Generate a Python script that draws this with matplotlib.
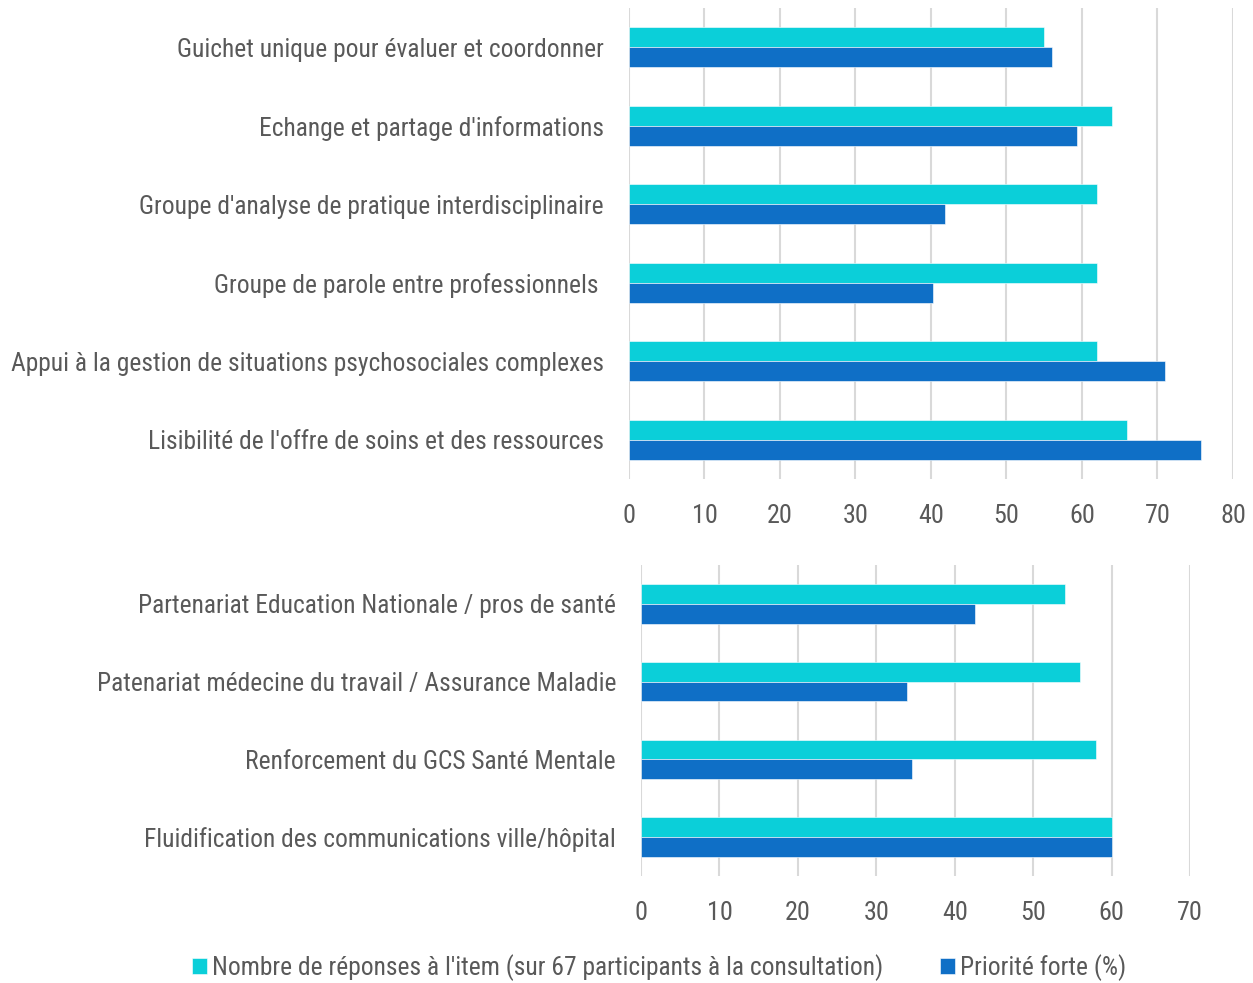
import matplotlib.pyplot as plt
import numpy as np

# data
top_labels = ["Guichet unique pour évaluer et coordonner",
              "Echange et partage d'informations",
              "Groupe d'analyse de pratique interdisciplinaire",
              "Groupe de parole entre professionnels ",
              "Appui à la gestion de situations psychosociales complexes",
              "Lisibilité de l'offre de soins et des ressources"]
top_nombre = [55, 64, 62, 62, 62, 66]
top_priorite = [56, 59.4, 41.9, 40.3, 71, 75.8]

bot_labels = ["Partenariat Education Nationale / pros de santé",
              "Patenariat médecine du travail / Assurance Maladie",
              "Renforcement du GCS Santé Mentale",
              "Fluidification des communications ville/hôpital"]
bot_nombre = [54, 56, 58, 60]
bot_priorite = [42.6, 33.9, 34.5, 60]

series_names = ["Nombre de réponses à l'item (sur 67 participants à la consultation)",
                "Priorité forte (%)"]

CYAN = '#0BCFD9'
BLUE = '#0F6FC6'
GRAY = '#595959'
GRID = '#D9D9D9'

plt.rcParams['font.family'] = ['Roboto Condensed', 'Archivo Narrow', 'DejaVu Sans']
plt.rcParams['font.size'] = 15

fig = plt.figure(figsize=(12.53, 9.83), dpi=100)
ax1 = fig.add_axes([0.502, 0.5127, 0.482, 0.479])
ax2 = fig.add_axes([0.5116, 0.1089, 0.4381, 0.3163])

h = 0.255   # bar height (each series)


def draw(ax, labels, nombre, priorite, xmax):
    y = np.arange(len(labels))
    b1 = ax.barh(y - h/2, nombre, height=h, color=CYAN, edgecolor='white',
                 linewidth=0.4, zorder=3)
    b2 = ax.barh(y + h/2, priorite, height=h, color=BLUE, edgecolor='white',
                 linewidth=0.4, zorder=3)
    ax.set_yticks(y)
    ax.set_yticklabels(labels, color=GRAY, fontsize=18.4)
    ax.set_ylim(len(labels) - 0.5, -0.5)
    ax.set_xlim(0, xmax)
    ax.set_xticks(np.arange(0, xmax + 1, 10))
    ax.tick_params(axis='x', length=0, pad=18, labelcolor=GRAY, labelsize=18.8)
    ax.tick_params(axis='y', length=0, pad=18)
    ax.grid(axis='x', color=GRID, linewidth=1.5, zorder=0)
    for s in ax.spines.values():
        s.set_visible(False)
    return b1, b2


b1, b2 = draw(ax1, top_labels, top_nombre, top_priorite, 80)
draw(ax2, bot_labels, bot_nombre, bot_priorite, 70)

fig.legend([b1, b2], series_names, loc='center', bbox_to_anchor=(0.526, 0.016),
           ncol=2, frameon=False, fontsize=18.4, labelcolor=GRAY,
           handlelength=0.6, handleheight=0.6, handletextpad=0.2, columnspacing=2.2)

fig.savefig('out.png', dpi=100, facecolor='white')
